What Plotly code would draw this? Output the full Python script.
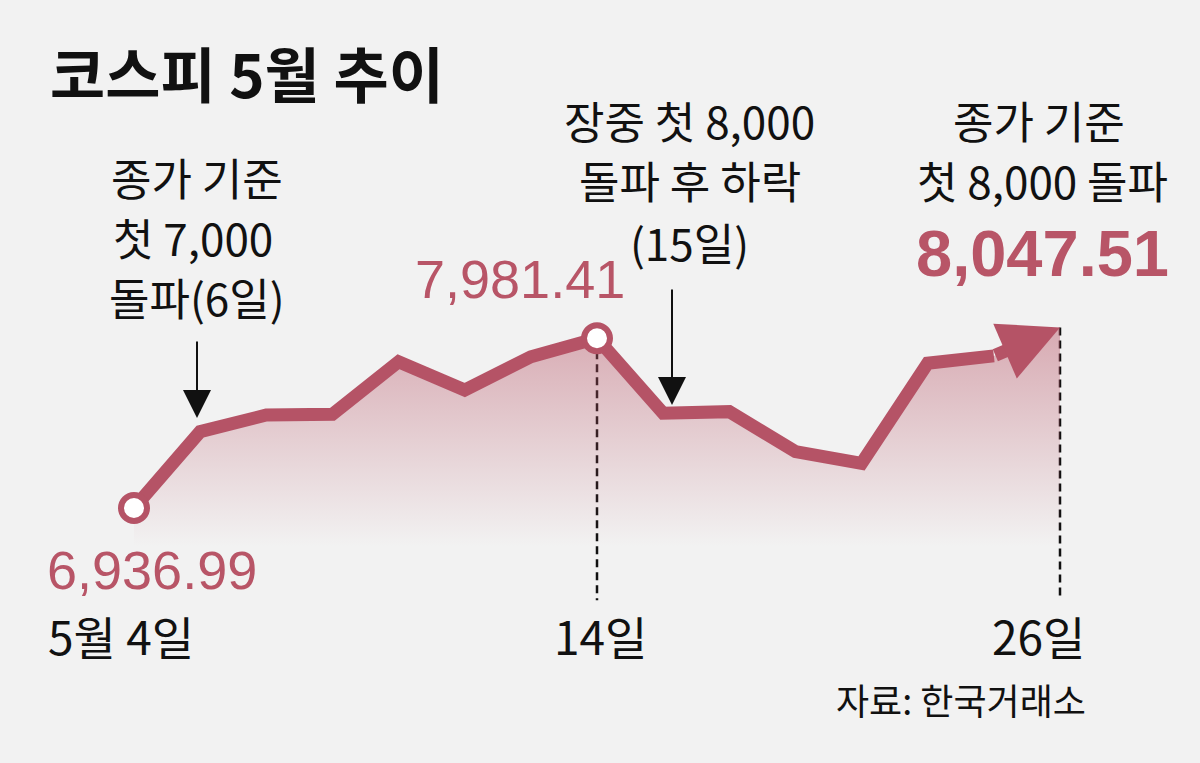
import plotly.graph_objects as go

# ---- data ----
dates = ["5월 4일", "6일", "7일", "8일", "11일", "12일", "13일", "14일",
         "15일", "18일", "19일", "20일", "21일", "22일", "26일"]
kospi = [6936.99, 7407, 7509, 7514, 7837, 7663, 7868, 7981.41,
         7520, 7530, 7284, 7212, 7828, 7873, 8047.51]
tick_labels = {"5월 4일": "5월 4일", "14일": "14일", "26일": "26일"}
title_text = "코스피 5월 추이"
source_text = "자료: 한국거래소"
baseline = 6700

idx = list(range(len(dates)))
W, H = 1200, 763
LINE = "#b55366"
TXT_RED = "#b85567"
BG = "#f2f2f2"
KR = "Noto Sans CJK KR"
NUM = "Liberation Sans"

i_start = 0
i_peak = dates.index("14일")
i_end = len(dates) - 1

fig = go.Figure()

# baseline for gradient fill
fig.add_trace(go.Scatter(x=idx, y=[baseline] * len(idx), mode="lines",
                         line=dict(width=0), hoverinfo="skip", showlegend=False))
fig.add_trace(go.Scatter(
    x=idx, y=kospi, mode="lines", line=dict(width=0), fill="tonexty",
    fillgradient=dict(type="vertical", start=baseline, stop=max(kospi),
                      colorscale=[[0, "rgba(183,82,100,0)"],
                                  [1, "rgba(183,82,100,0.45)"]]),
    hoverinfo="skip", showlegend=False))

# main line (last segment drawn as an arrow)
fig.add_trace(go.Scatter(x=idx[:-1], y=kospi[:-1], mode="lines",
                         line=dict(color=LINE, width=13), showlegend=False))

# dashed guides
for i in (i_peak, i_end):
    fig.add_shape(type="line", xref="x", yref="y", x0=i, x1=i,
                  y0=kospi[i], y1=6370,
                  line=dict(color="#111", width=2.5, dash="8px,5px"), layer="below")

# arrow on final segment
fig.add_annotation(x=idx[-1], y=kospi[-1], ax=idx[-2], ay=kospi[-2],
                   xref="x", yref="y", axref="x", ayref="y", text="",
                   showarrow=True, arrowhead=2, arrowsize=0.92, arrowwidth=13,
                   arrowcolor=LINE, standoff=0)

# open circle markers
fig.add_trace(go.Scatter(x=[idx[i_start], idx[i_peak]], y=[kospi[i_start], kospi[i_peak]],
                         mode="markers",
                         marker=dict(size=26, color="white", line=dict(color=LINE, width=6)),
                         showlegend=False))

def px(xp, yp):
    return xp / W, 1 - yp / H

def text(s, xp, yp, size, color="#111", font=KR, xanchor="center", bold=False):
    x, y = px(xp, yp)
    fig.add_annotation(x=x, y=y, xref="paper", yref="paper", text=(f"<b>{s}</b>" if bold else s),
                       showarrow=False, xanchor=xanchor, yanchor="middle",
                       font=dict(family=font, size=size, color=color))

# title
text(f"<b>{title_text}</b>", 48, 72, 60, xanchor="left")

# left note
text("종가 기준", 197, 177, 44)
text("첫 7,000", 193, 237, 44)
text("돌파(6일)", 197, 297, 44)
# middle note
text("장중 첫 8,000", 689, 120, 44)
text("돌파 후 하락", 690, 180, 44)
text("(15일)", 689, 242, 44)
# right note
text("종가 기준", 1039, 120, 44)
text("첫 8,000 돌파", 1042, 180, 44)

# value labels
text(f"{kospi[i_peak]:,.2f}", 520, 279, 54, color=TXT_RED, font=NUM)
text(f"{kospi[i_start]:,.2f}", 152, 570, 54, color=TXT_RED, font=NUM)
text(f"{kospi[i_end]:,.2f}", 1042, 253, 65, color=TXT_RED, font=NUM, bold=True)

# x labels
text(tick_labels[dates[i_start]], 121, 635, 46)
text(tick_labels[dates[i_peak]], 600, 635, 46)
text(tick_labels[dates[i_end]], 1038, 635, 46)

# source
text(source_text, 961, 699, 36)

# pointer arrows
for (xp, y_tail, y_tip) in [(197, 340, 418), (672, 288, 405)]:
    x, y = px(xp, y_tip)
    fig.add_annotation(x=x, y=y, xref="paper", yref="paper", ax=0, ay=-(y_tip - y_tail),
                       text="", showarrow=True, arrowhead=2, arrowsize=2.8,
                       arrowwidth=2, arrowcolor="#111", standoff=0)

unit = (1060 - 134) / 14
x_lo = -134 / unit
x_hi = 14 + (W - 1060) / unit
vpp = (kospi[i_peak] - kospi[i_start]) / (508 - 338.3)
y_top = kospi[i_start] + 508 * vpp
y_bot = kospi[i_start] - (H - 508) * vpp

fig.update_layout(
    width=W, height=H, margin=dict(l=0, r=0, t=0, b=0),
    paper_bgcolor=BG, plot_bgcolor=BG,
    xaxis=dict(range=[x_lo, x_hi], visible=False, fixedrange=True),
    yaxis=dict(range=[y_bot, y_top], visible=False, fixedrange=True),
    showlegend=False,
)

fig.write_html(
    "out.html",
    config={"displayModeBar": False, "staticPlot": True},
    post_script=("document.body.style.margin='0';"
                 "document.body.style.overflow='hidden';"
                 "document.body.style.background='#f2f2f2';"),
)
